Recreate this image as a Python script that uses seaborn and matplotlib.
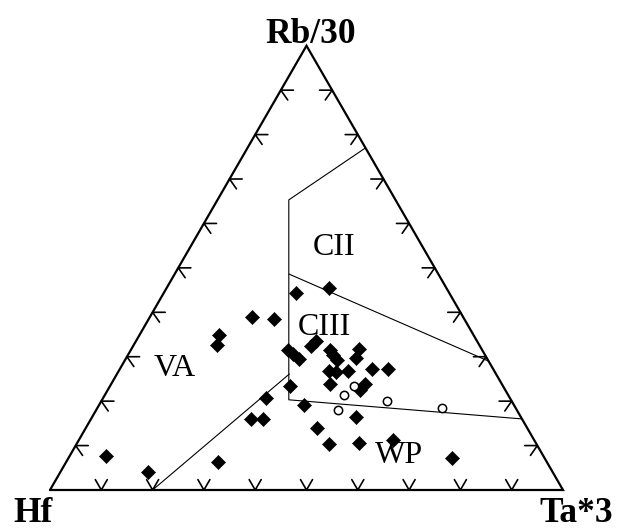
import numpy as np
import pandas as pd
import matplotlib
matplotlib.use("Agg")
import matplotlib.pyplot as plt
import seaborn as sns

sns.set_style("white")
plt.rcParams["font.family"] = ["Liberation Serif", "DejaVu Serif"]
plt.rcParams["text.color"] = "black"

# ---- Data: ternary compositions in percent (Hf, Rb/30, Ta*3) ----
diamond_hf = [29.9, 23.0, 41.2, 37.1, 31.4, 32.9, 37.8, 37.3, 36.8, 29.7, 29.6, 29.4,
              23.9, 25.5, 32.2, 30.9, 28.5, 23.6, 20.5, 33.5, 26.7, 28.3, 41.6, 47.6,
              41.0, 52.9, 50.4, 32.2, 40.9, 40.4, 34.5, 27.5, 49.7, 51.2, 85.3, 78.9,
              64.0, 18.1]
diamond_rb = [44.3, 45.4, 39.0, 38.4, 33.6, 32.5, 31.5, 30.5, 29.4, 31.5, 30.4, 29.3,
              31.7, 29.6, 26.8, 26.6, 26.8, 27.2, 27.2, 23.8, 23.9, 22.5, 23.3, 20.6,
              19.1, 16.0, 16.0, 16.4, 14.0, 10.3, 10.5, 11.3, 34.9, 32.6, 7.7, 4.1,
              6.4, 7.1]
diamond_ta = [25.8, 31.6, 19.8, 24.5, 35.0, 34.6, 30.7, 32.2, 33.8, 38.8, 40.0, 41.3,
              44.4, 44.9, 41.0, 42.5, 44.7, 49.2, 52.3, 42.7, 49.4, 49.2, 35.1, 31.8,
              39.9, 31.1, 33.6, 51.4, 45.1, 49.3, 55.0, 61.2, 15.4, 16.2, 7.0, 17.0,
              29.6, 74.8]

circle_hf = [31.9, 29.0, 34.9, 24.2, 14.3]
circle_rb = [21.4, 23.4, 18.0, 20.1, 18.4]
circle_ta = [46.7, 47.6, 47.1, 55.7, 67.3]

# Field boundaries (Hf, Rb/30, Ta*3) in percent
main_hf = [0.0, 20.8, 43.3, 0.0]
main_rb = [77.0, 65.3, 20.3, 16.0]
main_ta = [23.0, 13.9, 36.4, 84.0]

cii_hf = [29.1, 0.0]
cii_rb = [48.6, 29.0]
cii_ta = [22.3, 71.0]

va_hf = [40.3, 80.0]
va_rb = [26.1, 0.0]
va_ta = [33.6, 20.0]

tick_fracs = [0.1, 0.2, 0.3, 0.4, 0.5, 0.6, 0.7, 0.8, 0.9]

vertex_labels = ["Hf", "Rb/30", "Ta*3"]
field_labels = ["CII", "CIII", "VA", "WP"]

S3 = np.sqrt(3) / 2


def tern(hf, rb, ta):
    hf = np.asarray(hf, float)
    rb = np.asarray(rb, float)
    ta = np.asarray(ta, float)
    tot = hf + rb + ta
    rb = rb / tot
    ta = ta / tot
    return ta + rb / 2, rb * S3


W, H = 617, 531
fig = plt.figure(figsize=(W / 100, H / 100), dpi=100)
ax = fig.add_axes([50 / W, (H - 490) / H, 513 / W, 513 * S3 / H])
ax.set_xlim(0, 1)
ax.set_ylim(0, S3)
ax.set_aspect("equal")
ax.axis("off")

# Triangle frame
ax.plot([0, 1, 0.5, 0], [0, 0, S3, 0], color="black", lw=1.6,
        solid_joinstyle="miter", clip_on=False, zorder=3)

# Ticks
L = 12 / 513
a = np.deg2rad(60)
b = np.deg2rad(55)
for k in tick_fracs:
    # base
    ax.plot([k - L * np.cos(a), k, k + L * np.cos(a)],
            [L * np.sin(a), 0, L * np.sin(a)], color="black", lw=1.2, clip_on=False)
    # left edge
    px, py = k / 2, k * S3
    ax.plot([px + L * 1.05, px, px + L * np.cos(b)],
            [py, py, py - L * np.sin(b)], color="black", lw=1.2, clip_on=False)
    # right edge
    px, py = 1 - k / 2, k * S3
    ax.plot([px - L * 1.05, px, px - L * np.cos(b)],
            [py, py, py - L * np.sin(b)], color="black", lw=1.2, clip_on=False)

# Field boundaries
for h_, r_, t_ in [(main_hf, main_rb, main_ta), (cii_hf, cii_rb, cii_ta), (va_hf, va_rb, va_ta)]:
    x, y = tern(h_, r_, t_)
    ax.plot(x, y, color="black", lw=0.8, zorder=2)

# Samples
dx, dy = tern(diamond_hf, diamond_rb, diamond_ta)
df_d = pd.DataFrame({"x": dx, "y": dy})
sns.scatterplot(data=df_d, x="x", y="y", marker="D", s=52, color="black",
                edgecolor="black", linewidth=0.4, ax=ax, legend=False, zorder=4, clip_on=False)

cx, cy = tern(circle_hf, circle_rb, circle_ta)
df_c = pd.DataFrame({"x": cx, "y": cy})
sns.scatterplot(data=df_c, x="x", y="y", marker="o", s=36, facecolor="white",
                edgecolor="black", linewidth=1.1, ax=ax, legend=False, zorder=4)
ax.set_xlim(0, 1)
ax.set_ylim(0, S3)

# Vertex labels
bold = dict(fontsize=25.5, fontweight="bold", ha="center", color="black")
fig.text(33 / W, 0.5 / H, vertex_labels[0], va="bottom", **bold)
fig.text(311 / W, 1 - 43 / H, vertex_labels[1], va="baseline", **bold)
fig.text(576 / W, 1 - 521.5 / H, vertex_labels[2], va="baseline", **bold)

# Field labels
reg = dict(fontsize=23, ha="center", va="baseline", color="black")
fig.text(334.5 / W, 1 - 255 / H, field_labels[0], **reg)
fig.text(324 / W, 1 - 335 / H, field_labels[1], **reg)
fig.text(174.5 / W, 1 - 376.5 / H, field_labels[2], **reg)
fig.text(399 / W, 1 - 463 / H, field_labels[3], **reg)

fig.savefig("out.png", dpi=100)
